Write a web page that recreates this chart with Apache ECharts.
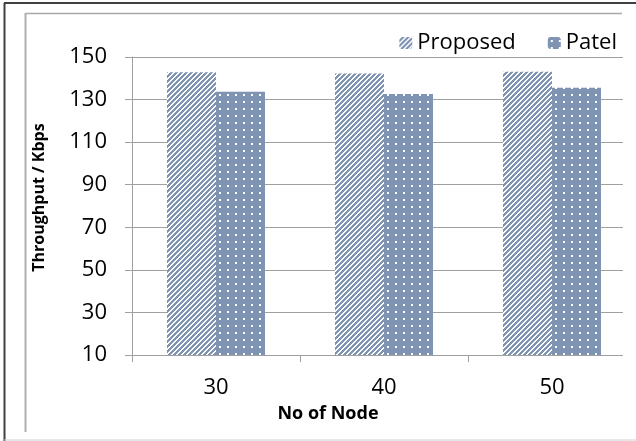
<!DOCTYPE html>
<html>
<head>
<meta charset="utf-8">
<script src="https://cdn.jsdelivr.net/npm/echarts@6/dist/echarts.min.js"></script>
<style>
  html, body { margin: 0; padding: 0; background: #fff; }
  #chart { width: 636px; height: 441px; }
</style>
</head>
<body>
<div id="chart"></div>
<script>
// Node counts on the x axis
const categories = ['30', '40', '50'];
// Throughput (Kbps) per scheme
const proposed = [142.8, 142.3, 143.1];
const patel = [133.7, 132.6, 135.6];
// Value axis range and step
const yMin = 10, yMax = 150, yStep = 20;

const BAR_BLUE = '#7f93b3';

// Diagonal white hatch over blue
function hatchTile() {
  const n = 5;
  const c = document.createElement('canvas');
  c.width = n; c.height = n;
  const g = c.getContext('2d');
  g.fillStyle = BAR_BLUE; g.fillRect(0, 0, n, n);
  g.fillStyle = '#ffffff';
  for (let x = 0; x < n; x++) for (let y = 0; y < n; y++) {
    if ((x + y) % n < 2) g.fillRect(x, y, 1, 1);
  }
  return c;
}
// Small white dots over blue
function dotTile() {
  const c = document.createElement('canvas');
  c.width = 8; c.height = 7;
  const g = c.getContext('2d');
  g.fillStyle = BAR_BLUE; g.fillRect(0, 0, 8, 7);
  g.fillStyle = '#ffffff';
  g.fillRect(3, 3, 2, 2);
  return c;
}

const chart = echarts.init(document.getElementById('chart'), null, { renderer: 'canvas' });
const FONT = '"Open Sans", "Noto Sans", sans-serif';

chart.setOption({
  animation: false,
  backgroundColor: '#ffffff',
  textStyle: { fontFamily: FONT },
  legend: {
    right: 14,
    top: 27,
    itemWidth: 13,
    itemHeight: 12,
    itemGap: 32,
    textStyle: { fontSize: 22, color: '#000', fontFamily: FONT },
    data: ['Proposed', 'Patel']
  },
  grid: { left: 132, right: -5, top: 57, bottom: 86, containLabel: false },
  xAxis: {
    type: 'category',
    data: categories,
    name: 'No of Node',
    nameLocation: 'middle',
    nameGap: 50,
    nameTextStyle: { fontSize: 18, fontWeight: 'bold', color: '#000', fontFamily: FONT, padding: [0, 112, 0, 0] },
    axisLine: { lineStyle: { color: '#a0a0a0', width: 1 } },
    axisTick: { show: true, length: 7, lineStyle: { color: '#a0a0a0' } },
    axisLabel: { fontSize: 22, color: '#000', margin: 22, fontFamily: FONT }
  },
  yAxis: {
    type: 'value',
    min: yMin,
    max: yMax,
    interval: yStep,
    name: 'Throughput / Kbps',
    nameLocation: 'middle',
    nameGap: 85,
    nameTextStyle: { fontSize: 16, fontWeight: 'bold', color: '#000', fontFamily: FONT, padding: [0, 0, 0, 17] },
    axisLine: { show: true, lineStyle: { color: '#a0a0a0', width: 1 } },
    axisTick: { show: true, length: 7, lineStyle: { color: '#a0a0a0' } },
    axisLabel: { fontSize: 22, color: '#000', margin: 25, fontFamily: FONT },
    splitLine: { show: true, lineStyle: { color: '#a0a0a0', width: 1 } }
  },
  series: [
    {
      name: 'Proposed',
      type: 'bar',
      data: proposed,
      barWidth: 49,
      barGap: '0%',
      itemStyle: { color: { image: hatchTile(), repeat: 'repeat' } }
    },
    {
      name: 'Patel',
      type: 'bar',
      data: patel,
      barWidth: 49,
      barGap: '0%',
      itemStyle: { color: { image: dotTile(), repeat: 'repeat' } }
    }
  ],
  graphic: [
    // plot area stops short of the right edge
    { type: 'rect', shape: { x: 623, y: 45, width: 20, height: 325 }, style: { fill: '#ffffff' }, z: 100 },
    // outer frame
    { type: 'line', shape: { x1: 4, y1: 3, x2: 636, y2: 3 }, style: { stroke: '#404040', lineWidth: 2 }, z: 101 },
    { type: 'line', shape: { x1: 4.5, y1: 3, x2: 4.5, y2: 441 }, style: { stroke: '#404040', lineWidth: 2 }, z: 101 },
    { type: 'line', shape: { x1: 4, y1: 440, x2: 636, y2: 440 }, style: { stroke: '#d0d0d0', lineWidth: 1 }, z: 101 },
    // inner frame
    { type: 'line', shape: { x1: 25, y1: 13.5, x2: 622, y2: 13.5 }, style: { stroke: '#a8a8a8', lineWidth: 1.5 }, z: 101 },
    { type: 'line', shape: { x1: 25.5, y1: 13, x2: 25.5, y2: 432 }, style: { stroke: '#b0b0b0', lineWidth: 2 }, z: 101 }
  ]
});
</script>
</body>
</html>
